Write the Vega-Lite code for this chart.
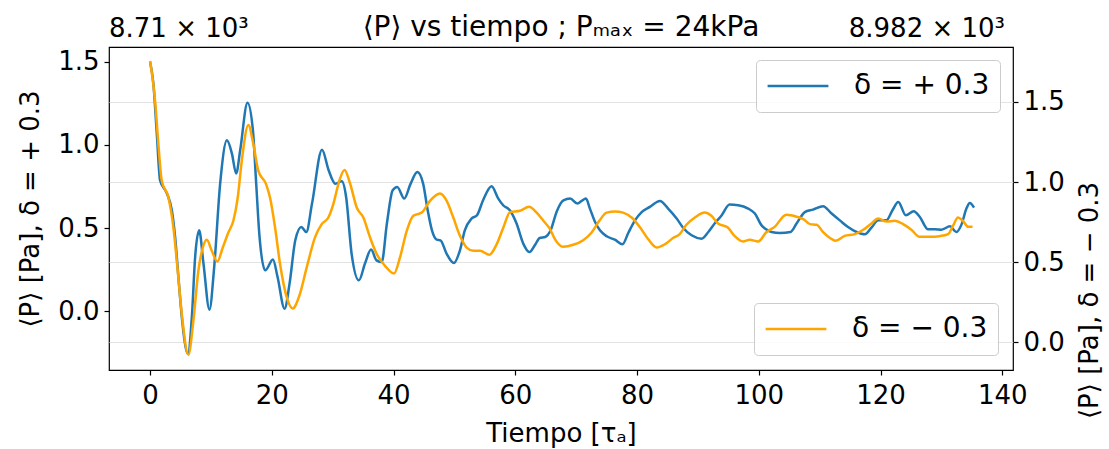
{
  "$schema": "https://vega.github.io/schema/vega-lite/v6.json",
  "width": 904,
  "height": 323,
  "autosize": {"type": "none"},
  "padding": {"left": 109, "top": 47, "right": 96, "bottom": 79},
  "background": "white",
  "config": {
    "font": "DejaVu Sans",
    "view": {"stroke": "black", "strokeWidth": 1.2},
    "axis": {"labelColor": "black", "titleColor": "black", "tickColor": "black", "labelFont": "DejaVu Sans", "titleFont": "DejaVu Sans", "titleFontWeight": "normal", "domain": false, "tickSize": 5, "tickWidth": 1.2}
  },
  "title": {"text": "⟨P⟩ vs tiempo ; Pₘₐₓ = 24kPa", "fontSize": 28, "fontWeight": "normal", "color": "black", "font": "DejaVu Sans", "offset": -26},
  "datasets": {
    "pos": [
      {"t":0,"P":8711.500},{"t":0.54,"P":8711.370},{"t":1.10,"P":8711.070},{"t":1.64,"P":8710.787},{"t":2.75,"P":8710.709},{"t":3.57,"P":8710.607},{"t":4.11,"P":8710.446},{"t":4.65,"P":8710.205},{"t":5.21,"P":8709.964},{"t":6.20,"P":8709.743},{"t":6.86,"P":8709.964},{"t":7.40,"P":8710.325},{"t":8.06,"P":8710.486},{"t":8.77,"P":8710.286},{"t":9.75,"P":8710.008},{"t":10.53,"P":8710.265},{"t":11.51,"P":8710.767},{"t":12.62,"P":8711.028},{"t":13.44,"P":8710.948},{"t":14.14,"P":8710.828},{"t":14.80,"P":8710.968},{"t":16.00,"P":8711.255},{"t":16.89,"P":8711.089},{"t":17.43,"P":8710.767},{"t":17.98,"P":8710.446},{"t":18.91,"P":8710.245},{"t":20.18,"P":8710.310},{"t":20.94,"P":8710.205},{"t":22.09,"P":8710.014},{"t":22.91,"P":8710.165},{"t":23.85,"P":8710.426},{"t":24.84,"P":8710.506},{"t":25.66,"P":8710.476},{"t":26.60,"P":8710.647},{"t":28.24,"P":8710.972},{"t":29.33,"P":8710.848},{"t":30.43,"P":8710.767},{"t":31.5,"P":8710.781},{"t":32.2,"P":8710.687},{"t":33.1,"P":8710.346},{"t":34.3,"P":8710.185},{"t":35.3,"P":8710.286},{"t":36.3,"P":8710.370},{"t":37.2,"P":8710.305},{"t":38.05,"P":8710.295},{"t":38.9,"P":8710.527},{"t":39.85,"P":8710.727},{"t":40.6,"P":8710.747},{"t":41.75,"P":8710.677},{"t":42.8,"P":8710.767},{"t":43.9,"P":8710.837},{"t":44.85,"P":8710.767},{"t":45.6,"P":8710.607},{"t":46.3,"P":8710.486},{"t":47.1,"P":8710.430},{"t":47.7,"P":8710.426},{"t":48.7,"P":8710.346},{"t":49.9,"P":8710.289},{"t":50.9,"P":8710.366},{"t":51.7,"P":8710.486},{"t":52.8,"P":8710.557},{"t":53.7,"P":8710.577},{"t":54.7,"P":8710.667},{"t":56.1,"P":8710.751},{"t":57.2,"P":8710.677},{"t":58.0,"P":8710.637},{"t":59.1,"P":8710.607},{"t":60.2,"P":8710.527},{"t":61.3,"P":8710.406},{"t":62.3,"P":8710.355},{"t":63.2,"P":8710.396},{"t":64.0,"P":8710.440},{"t":64.9,"P":8710.446},{"t":65.8,"P":8710.486},{"t":66.8,"P":8710.600},{"t":67.9,"P":8710.667},{"t":69.0,"P":8710.677},{"t":70.2,"P":8710.647},{"t":70.9,"P":8710.663},{"t":71.6,"P":8710.677},{"t":72.25,"P":8710.617},{"t":73.1,"P":8710.536},{"t":73.9,"P":8710.486},{"t":75.0,"P":8710.450},{"t":76.35,"P":8710.430},{"t":77.6,"P":8710.402},{"t":78.55,"P":8710.470},{"t":79.65,"P":8710.546},{"t":80.75,"P":8710.596},{"t":82.1,"P":8710.627},{"t":83.75,"P":8710.663},{"t":85.1,"P":8710.617},{"t":86.5,"P":8710.557},{"t":87.55,"P":8710.502},{"t":88.95,"P":8710.456},{"t":90.6,"P":8710.436},{"t":91.7,"P":8710.476},{"t":92.8,"P":8710.530},{"t":93.9,"P":8710.577},{"t":95.2,"P":8710.641},{"t":96.6,"P":8710.637},{"t":98.25,"P":8710.617},{"t":99.35,"P":8710.587},{"t":100.45,"P":8710.516},{"t":101.0,"P":8710.497},{"t":102.1,"P":8710.476},{"t":103.45,"P":8710.470},{"t":105.2,"P":8710.476},{"t":106.2,"P":8710.527},{"t":107.55,"P":8710.596},{"t":108.9,"P":8710.611},{"t":110.55,"P":8710.631},{"t":111.95,"P":8710.587},{"t":113.3,"P":8710.546},{"t":114.65,"P":8710.506},{"t":116.05,"P":8710.476},{"t":117.4,"P":8710.462},{"t":118.5,"P":8710.502},{"t":119.6,"P":8710.546},{"t":120.95,"P":8710.546},{"t":121.95,"P":8710.607},{"t":122.9,"P":8710.657},{"t":124.15,"P":8710.577},{"t":125.45,"P":8710.601},{"t":126.45,"P":8710.566},{"t":127.8,"P":8710.492},{"t":128.9,"P":8710.492},{"t":130.0,"P":8710.490},{"t":131.4,"P":8710.510},{"t":132.45,"P":8710.476},{"t":133.3,"P":8710.522},{"t":134.1,"P":8710.617},{"t":134.65,"P":8710.651},{"t":135.35,"P":8710.623}
    ],
    "neg": [
      {"t":0,"P":8983.756},{"t":0.82,"P":8983.507},{"t":1.36,"P":8983.237},{"t":1.92,"P":8983.008},{"t":3.01,"P":8982.904},{"t":3.83,"P":8982.717},{"t":4.49,"P":8982.468},{"t":5.21,"P":8982.177},{"t":6.29,"P":8981.923},{"t":7.11,"P":8982.135},{"t":7.93,"P":8982.447},{"t":8.66,"P":8982.592},{"t":9.31,"P":8982.640},{"t":10.13,"P":8982.572},{"t":11.05,"P":8982.505},{"t":11.94,"P":8982.592},{"t":12.86,"P":8982.686},{"t":13.68,"P":8982.759},{"t":14.40,"P":8982.904},{"t":15.06,"P":8983.133},{"t":16.14,"P":8983.357},{"t":16.96,"P":8983.237},{"t":17.78,"P":8983.070},{"t":19.05,"P":8982.988},{"t":19.70,"P":8982.904},{"t":20.53,"P":8982.717},{"t":21.35,"P":8982.489},{"t":22.45,"P":8982.281},{"t":23.43,"P":8982.212},{"t":24.52,"P":8982.291},{"t":25.73,"P":8982.468},{"t":27.09,"P":8982.655},{"t":28.19,"P":8982.738},{"t":29.28,"P":8982.779},{"t":30.1,"P":8982.863},{"t":31.08,"P":8983.008},{"t":31.94,"P":8983.075},{"t":32.84,"P":8982.993},{"t":33.94,"P":8982.842},{"t":35.03,"P":8982.779},{"t":36.13,"P":8982.655},{"t":37.23,"P":8982.551},{"t":38.59,"P":8982.478},{"t":40.07,"P":8982.430},{"t":41.05,"P":8982.530},{"t":42.16,"P":8982.696},{"t":43.24,"P":8982.790},{"t":44.62,"P":8982.810},{"t":45.98,"P":8982.883},{"t":47.62,"P":8982.929},{"t":48.72,"P":8982.883},{"t":49.81,"P":8982.779},{"t":50.9,"P":8982.665},{"t":52.0,"P":8982.592},{"t":53.1,"P":8982.572},{"t":54.2,"P":8982.572},{"t":55.73,"P":8982.547},{"t":56.94,"P":8982.613},{"t":58.03,"P":8982.717},{"t":59.13,"P":8982.813},{"t":60.76,"P":8982.821},{"t":62.24,"P":8982.846},{"t":63.5,"P":8982.810},{"t":64.6,"P":8982.759},{"t":65.7,"P":8982.707},{"t":66.5,"P":8982.645},{"t":67.86,"P":8982.597},{"t":69.5,"P":8982.609},{"t":71.15,"P":8982.638},{"t":72.53,"P":8982.686},{"t":73.8,"P":8982.759},{"t":75.0,"P":8982.810},{"t":76.4,"P":8982.817},{"t":77.7,"P":8982.810},{"t":79.1,"P":8982.779},{"t":80.5,"P":8982.717},{"t":81.8,"P":8982.645},{"t":83.2,"P":8982.592},{"t":84.6,"P":8982.613},{"t":85.9,"P":8982.651},{"t":87.0,"P":8982.676},{"t":88.1,"P":8982.734},{"t":89.5,"P":8982.779},{"t":91.1,"P":8982.810},{"t":92.2,"P":8982.790},{"t":93.3,"P":8982.742},{"t":94.9,"P":8982.717},{"t":96.0,"P":8982.665},{"t":97.4,"P":8982.630},{"t":98.5,"P":8982.640},{"t":99.9,"P":8982.630},{"t":101.2,"P":8982.686},{"t":102.6,"P":8982.721},{"t":104.5,"P":8982.796},{"t":106.2,"P":8982.784},{"t":107.3,"P":8982.769},{"t":108.4,"P":8982.738},{"t":109.5,"P":8982.734},{"t":110.6,"P":8982.686},{"t":111.7,"P":8982.651},{"t":112.6,"P":8982.634},{"t":114.1,"P":8982.665},{"t":115.8,"P":8982.676},{"t":117.1,"P":8982.701},{"t":118.5,"P":8982.742},{"t":119.6,"P":8982.773},{"t":121.0,"P":8982.754},{"t":122.3,"P":8982.759},{"t":123.7,"P":8982.738},{"t":125.1,"P":8982.701},{"t":126.4,"P":8982.659},{"t":128.1,"P":8982.659},{"t":129.7,"P":8982.663},{"t":131.1,"P":8982.676},{"t":131.9,"P":8982.728},{"t":132.7,"P":8982.779},{"t":133.5,"P":8982.759},{"t":134.4,"P":8982.721},{"t":135.1,"P":8982.721}
    ]
  },
  "layer": [
    {
      "layer": [
        {
          "data": {"name": "pos"},
          "mark": {"type": "line", "strokeWidth": 2.5, "interpolate": "monotone"},
          "encoding": {
            "x": {"field": "t", "type": "quantitative", "scale": {"domain": [-6.75, 141.75], "nice": false, "zero": false},
                  "axis": {"values": [0,20,40,60,80,100,120,140], "format": "d", "grid": false, "labelFontSize": 26, "labelPadding": 7, "title": "Tiempo [τₐ]", "titleFontSize": 26, "titlePadding": 12}},
            "y": {"field": "P", "type": "quantitative", "scale": {"domain": [8709.645, 8711.59], "nice": false, "zero": false},
                  "axis": {"orient": "left", "values": [8710, 8710.5, 8711, 8711.5], "labelExpr": "format(datum.value - 8710, '.1f')", "grid": false, "labelFontSize": 26, "labelPadding": 5, "title": "⟨P⟩ [Pa], δ = + 0.3", "titleFontSize": 26, "titlePadding": 14}},
            "color": {"datum": "δ = + 0.3", "type": "nominal", "scale": {"domain": ["δ = + 0.3"], "range": ["#1f77b4"]},
                      "legend": {"title": null, "orient": "top-right", "offset": 13, "padding": 10, "strokeColor": "#cccccc", "fillColor": "rgba(255,255,255,0.85)", "cornerRadius": 4, "labelFontSize": 28, "labelFont": "DejaVu Sans", "labelColor": "black", "symbolType": "stroke", "symbolSize": 3700, "symbolStrokeWidth": 2.5, "labelOffset": 24, "clipHeight": 32}}
          }
        },
        {
          "data": {"values": [{"label": "8.71 × 10³"}]},
          "mark": {"type": "text", "align": "left", "baseline": "bottom", "dy": -5, "fontSize": 26, "font": "DejaVu Sans", "color": "black"},
          "encoding": {"text": {"field": "label"}, "x": {"datum": -6.75}, "y": {"datum": 8711.59}}
        }
      ]
    },
    {
      "layer": [
        {
          "data": {"name": "neg"},
          "mark": {"type": "line", "strokeWidth": 2.5, "interpolate": "monotone"},
          "encoding": {
            "x": {"field": "t", "type": "quantitative"},
            "y": {"field": "P", "type": "quantitative", "scale": {"domain": [8981.828, 8983.843], "nice": false, "zero": false},
                  "axis": {"orient": "right", "values": [8982, 8982.5, 8983, 8983.5], "labelExpr": "format(datum.value - 8982, '.1f')", "grid": true, "gridColor": "#e3e3e3", "gridWidth": 1.2, "labelFontSize": 26, "labelPadding": 5, "title": "⟨P⟩ [Pa], δ = − 0.3", "titleFontSize": 26, "titlePadding": 12, "titleAngle": 270, "titleBaseline": "top", "titleY": 253}},
            "color": {"datum": "δ = − 0.3", "type": "nominal", "scale": {"domain": ["δ = − 0.3"], "range": ["#ffa500"]},
                      "legend": {"title": null, "orient": "bottom-right", "offset": 15, "padding": 10, "strokeColor": "#cccccc", "fillColor": "rgba(255,255,255,0.85)", "cornerRadius": 4, "labelFontSize": 28, "labelFont": "DejaVu Sans", "labelColor": "black", "symbolType": "stroke", "symbolSize": 3700, "symbolStrokeWidth": 2.5, "labelOffset": 24, "clipHeight": 32}}
          }
        },
        {
          "data": {"values": [{"label": "8.982 × 10³"}]},
          "mark": {"type": "text", "align": "right", "baseline": "bottom", "dy": -5, "dx": -8, "fontSize": 26, "font": "DejaVu Sans", "color": "black"},
          "encoding": {"text": {"field": "label"}, "x": {"datum": 141.75}, "y": {"datum": 8983.843}}
        }
      ]
    }
  ],
  "resolve": {"scale": {"y": "independent", "color": "independent"}, "legend": {"color": "independent"}}
}
